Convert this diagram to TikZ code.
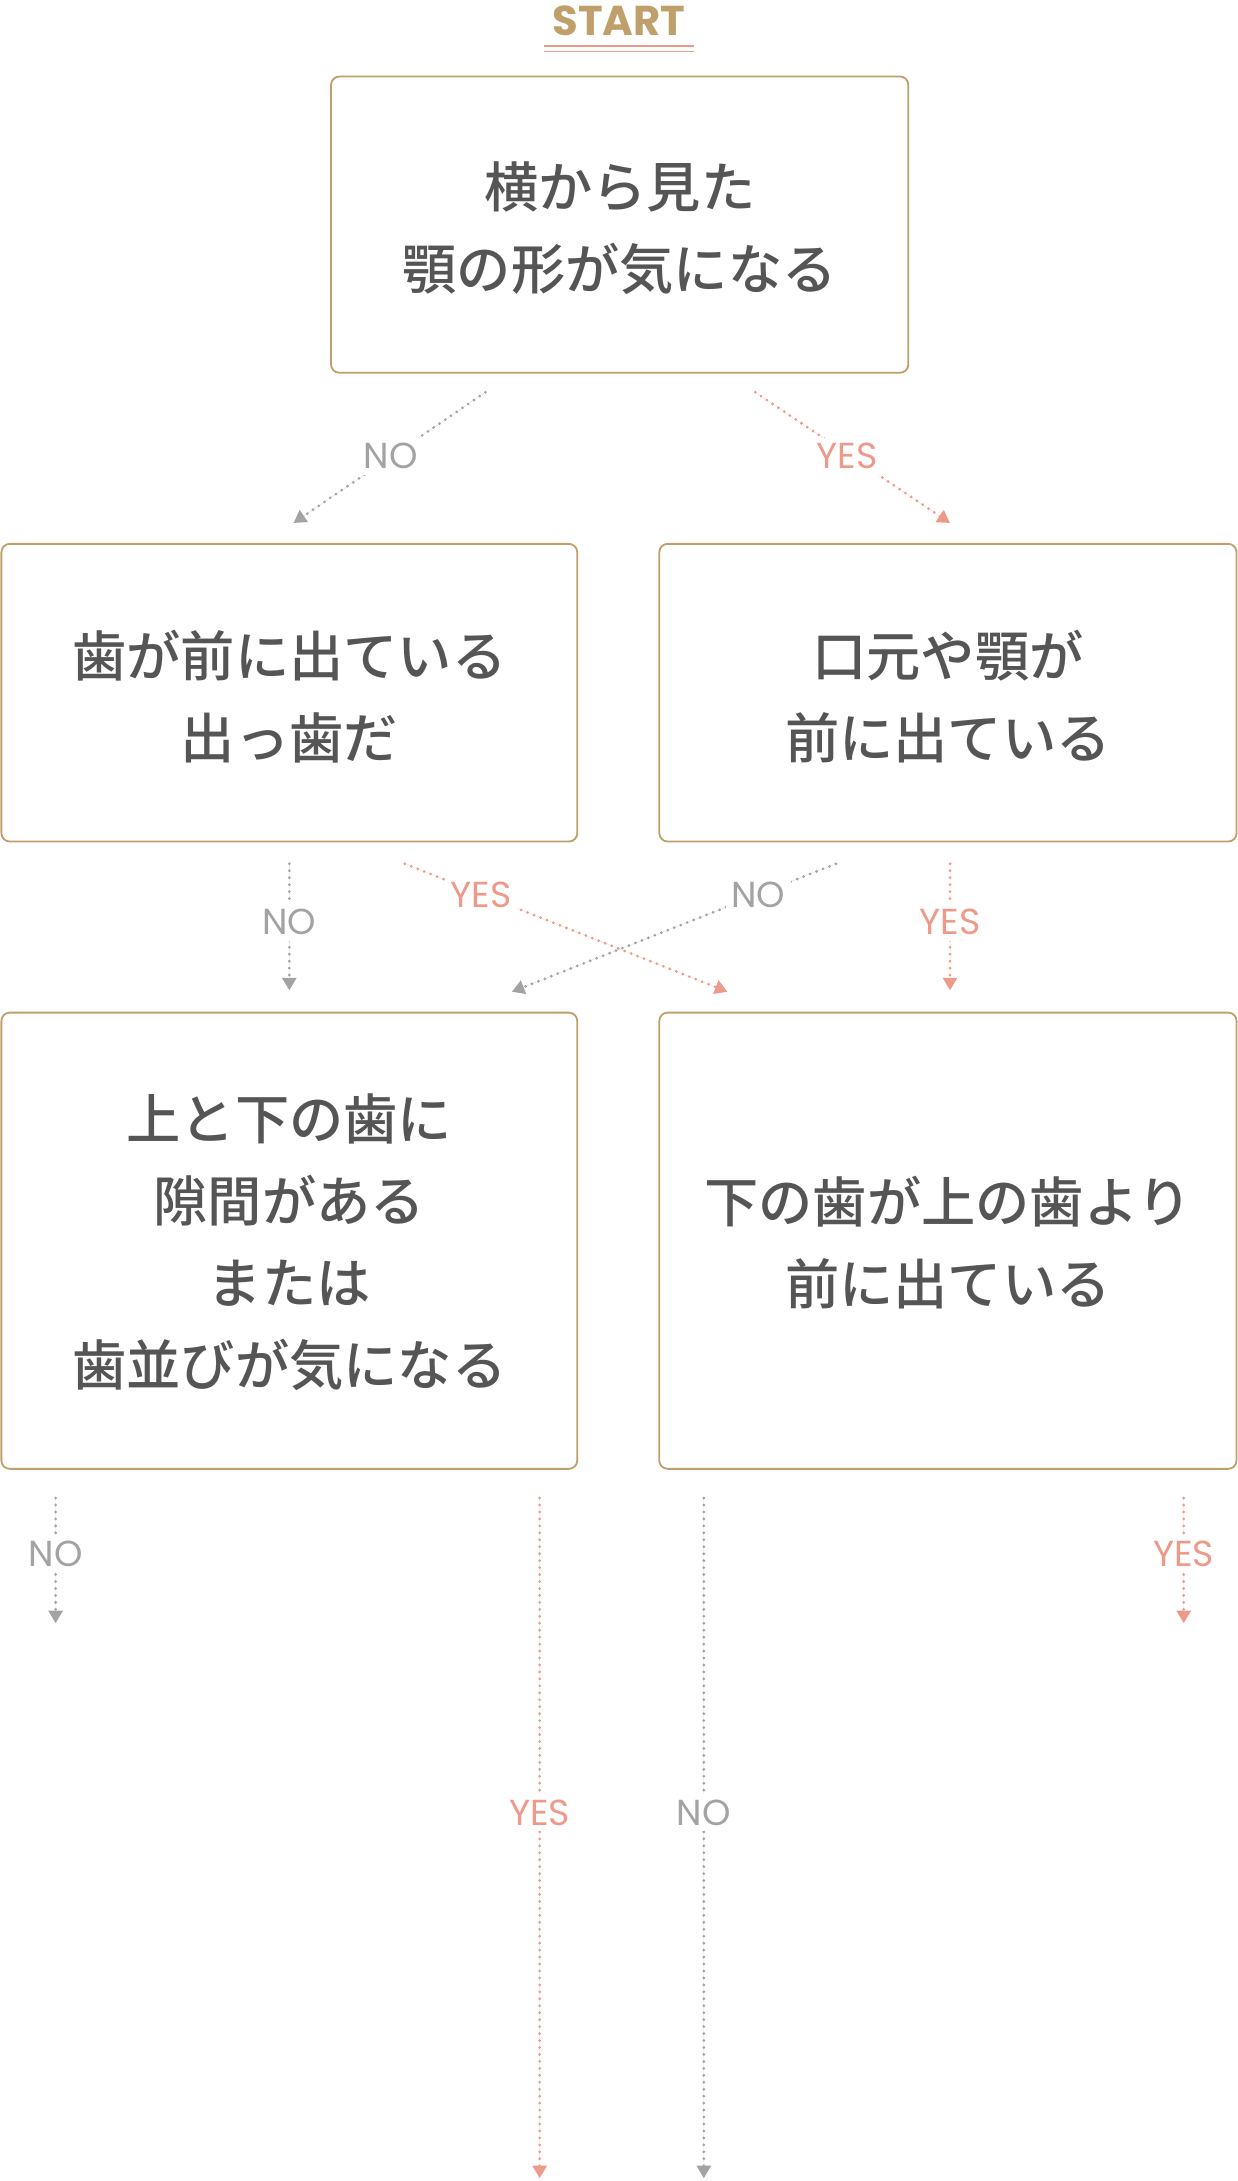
\documentclass[tikz,border=0pt]{standalone}
\usepackage{fontspec}
\setmainfont{Noto Sans CJK JP}[UprightFont={* Medium}]
\newfontfamily\lab{Poppins}
\usetikzlibrary{arrows.meta}
\definecolor{gold}{HTML}{C0A06A}
\definecolor{txt}{HTML}{555555}
\definecolor{sal}{HTML}{EE9A8A}
\definecolor{gr}{HTML}{A3A3A3}
\tikzset{
 box/.style={draw=gold,line width=1.3pt,rounded corners=6pt,fill=white,text=txt,align=center,font=\fontsize{39}{59}\selectfont,inner sep=0pt},
 lnk/.style={line width=2.2pt,dash pattern=on 0pt off 5pt,line cap=round,-{Triangle[width=10pt,length=9pt,line cap=butt]}},
 yes/.style={lnk,draw=sal,fill=sal},
 no/.style={lnk,draw=gr,fill=gr},
 ylab/.style={fill=white,text=sal,font=\lab\fontsize{26}{26}\selectfont,inner sep=4pt},
 nlab/.style={fill=white,text=gr,font=\lab\fontsize{26}{26}\selectfont,inner sep=4pt},
}
\begin{document}
\begin{tikzpicture}[x=1pt,y=-1pt]
\useasboundingbox (0,0) rectangle (890,1568);
\node[text=gold,font=\lab\bfseries\fontsize{30}{30}\selectfont] (st) at (445,15) {START};
\draw[sal,line width=1pt] (391,33) -- (499,33) (391,37) -- (499,37);
\path[box] (238,55) rectangle (653,268);
\node[box,draw=none,fill=none] (b1) at (445.5,164) {横から見た\\顎の形が気になる};
\path[box] (1,391) rectangle (415,605);
\node[box,draw=none,fill=none] (b2) at (208,501) {歯が前に出ている\\出っ歯だ};
\path[box] (474,391) rectangle (889,605);
\node[box,draw=none,fill=none] (b3) at (681.5,501) {口元や顎が\\前に出ている};
\path[box] (1,728) rectangle (415,1056);
\node[box,draw=none,fill=none] (b4) at (208,893) {上と下の歯に\\隙間がある\\または\\歯並びが気になる};
\path[box] (474,728) rectangle (889,1056);
\node[box,draw=none,fill=none] (b5) at (681.5,893) {下の歯が上の歯より\\前に出ている};
\coordinate (a1) at (349,282); \coordinate (a2) at (211,376);
\coordinate (c1) at (543,282); \coordinate (c2) at (683,376);
\coordinate (d1) at (208,621); \coordinate (d2) at (208,712);
\coordinate (e1) at (291,621); \coordinate (e2) at (523,713);
\coordinate (f1) at (601,621); \coordinate (f2) at (368,713);
\coordinate (g1) at (683,621); \coordinate (g2) at (683,712);
\coordinate (h1) at (40,1077); \coordinate (h2) at (40,1167);
\coordinate (i1) at (388,1077); \coordinate (i2) at (388,1566);
\coordinate (j1) at (506,1077); \coordinate (j2) at (506,1566);
\coordinate (k1) at (851,1077); \coordinate (k2) at (851,1167);
\draw[no] (a1) -- (a2);
\draw[yes] (c1) -- (c2);
\draw[no] (d1) -- (d2);
\draw[yes] (e1) -- (e2);
\draw[no] (f1) -- (f2);
\draw[yes] (g1) -- (g2);
\draw[no] (h1) -- (h2);
\draw[yes] (i1) -- (i2);
\draw[no] (j1) -- (j2);
\draw[yes] (k1) -- (k2);
\node[nlab] (l1) at (281,328) {NO};
\node[ylab] (l2) at (609,328) {YES};
\node[nlab] (l3) at (208,663) {NO};
\node[ylab] (l4) at (346,643) {YES};
\node[nlab] (l5) at (545,643) {NO};
\node[ylab] (l6) at (683,663) {YES};
\node[nlab] (l7) at (40,1117) {NO};
\node[ylab] (l8) at (388,1303) {YES};
\node[nlab] (l9) at (506,1303) {NO};
\node[ylab] (l10) at (851,1117) {YES};
\end{tikzpicture}
\end{document}
